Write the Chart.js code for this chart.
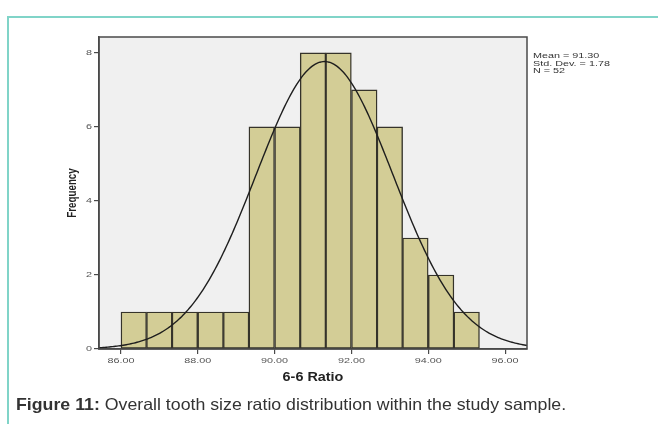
<!DOCTYPE html>
<html>
<head>
<meta charset="utf-8">
<script src="https://cdn.jsdelivr.net/npm/chart.js@4"></script>
<style>
  html, body { margin: 0; padding: 0; background: #fff; width: 658px; height: 424px; overflow: hidden; }
  #panel { position: absolute; left: 7px; top: 16px; width: 720px; height: 520px;
           border-left: 2px solid #80d4c8; border-top: 2px solid #80d4c8; }
  #c { position: absolute; left: 0; top: 0; }
  #caption { position: absolute; left: 16px; top: 395px; white-space: nowrap;
             transform: scaleX(1.075); transform-origin: 0 0;
             font-family: "Liberation Sans", Arial, sans-serif; font-size: 16.5px; color: #333; }
</style>
</head>
<body>
<div id="panel"></div>
<canvas id="c" width="658" height="424"></canvas>
<div id="caption"><b>Figure 11:</b> Overall tooth size ratio distribution within the study sample.</div>
<script>
// Histogram of the 6-6 ratio: bin edges and counts per bin
const binEdges = [86.00, 86.67, 87.33, 88.00, 88.67, 89.33, 90.00, 90.67, 91.33, 92.00, 92.67, 93.33, 94.00, 94.67, 95.33];
const frequencies = [1, 1, 1, 1, 1, 6, 6, 8, 8, 7, 6, 3, 2, 1];

// Axis ticks
const xTickValues = [86, 88, 90, 92, 94, 96];
const yTickValues = [0, 2, 4, 6, 8];

// Summary statistics (also drive the fitted normal curve)
const meanValue = 91.30;
const stdDev = 1.78;
const sampleSize = 52;
const statLines = ['Mean = 91.30', 'Std. Dev. = 1.78', 'N = 52'];

const xMin = 85.43, xMax = 96.57, yMax = 8.43;

// Bars placed at the centre of each bin
const barPoints = frequencies.map((f, i) => ({ x: (binEdges[i] + binEdges[i + 1]) / 2, y: f }));

// Normal density scaled to counts per bin
const binWidth = (binEdges[binEdges.length - 1] - binEdges[0]) / frequencies.length;
const curvePoints = [];
for (let x = xMin - 0.05; x <= xMax + 0.05; x += 0.04) {
  const z = (x - meanValue) / stdDev;
  curvePoints.push({ x, y: sampleSize * binWidth * Math.exp(-0.5 * z * z) / (stdDev * Math.sqrt(2 * Math.PI)) });
}

const AXIS = '#4a4a4a';
const FONT = '"Liberation Sans", Arial, sans-serif';

function stretchedText(ctx, text, x, y, align, sx) {
  ctx.save();
  ctx.translate(x, y);
  ctx.scale(sx, 1);
  ctx.textAlign = align;
  ctx.fillText(text, 0, 0);
  ctx.restore();
}

const spssLook = {
  id: 'spssLook',
  beforeDraw(chart) {
    const { ctx, chartArea: a } = chart;
    ctx.save();
    ctx.fillStyle = '#f0f0f0';
    ctx.fillRect(a.left, a.top, a.right - a.left, a.bottom - a.top);
    ctx.restore();
  },
  afterDraw(chart) {
    const { ctx, chartArea: a } = chart;
    const xs = chart.scales.x, ys = chart.scales.y;
    ctx.save();
    ctx.strokeStyle = AXIS;
    ctx.lineWidth = 1.5;
    ctx.strokeRect(a.left, a.top, a.right - a.left, a.bottom - a.top);

    // tick labels
    ctx.fillStyle = '#555';
    ctx.font = '8px ' + FONT;
    ctx.textBaseline = 'middle';
    xTickValues.forEach(v => stretchedText(ctx, v.toFixed(2), xs.getPixelForValue(v), 361, 'center', 1.35));
    yTickValues.forEach(v => stretchedText(ctx, String(v), 92, ys.getPixelForValue(v), 'right', 1.35));

    // axis titles
    ctx.fillStyle = '#222';
    ctx.font = 'bold 12px ' + FONT;
    stretchedText(ctx, '6-6 Ratio', (a.left + a.right) / 2, 378, 'center', 1.2);
    ctx.save();
    ctx.translate(72, (a.top + a.bottom) / 2);
    ctx.rotate(-Math.PI / 2);
    ctx.font = 'bold 9.8px ' + FONT;
    ctx.scale(1, 1.35);
    ctx.textAlign = 'center';
    ctx.fillText('Frequency', 0, 0);
    ctx.restore();

    // summary statistics
    ctx.fillStyle = '#333';
    ctx.font = '8px ' + FONT;
    statLines.forEach((t, i) => stretchedText(ctx, t, 533, 56 + i * 7.5, 'left', 1.35));
    ctx.restore();
  }
};

new Chart(document.getElementById('c'), {
  data: {
    datasets: [
      {
        type: 'line',
        data: curvePoints,
        borderColor: '#1e1e1e',
        borderWidth: 1.4,
        pointRadius: 0,
        tension: 0,
        order: 0
      },
      {
        type: 'bar',
        data: barPoints,
        backgroundColor: '#d3cd96',
        borderColor: '#35332a',
        borderWidth: 1.4,
        borderSkipped: false,
        barPercentage: 1,
        categoryPercentage: 1,
        order: 1
      }
    ]
  },
  options: {
    responsive: false,
    devicePixelRatio: 1,
    animation: false,
    events: [],
    layout: { padding: { left: 60, top: 37, right: 131, bottom: 39 } },
    plugins: { legend: { display: false }, tooltip: { enabled: false } },
    scales: {
      x: {
        type: 'linear',
        offset: false,
        min: xMin,
        max: xMax,
        afterBuildTicks: s => { s.ticks = xTickValues.map(v => ({ value: v })); },
        afterFit: s => { s.height = 36; },
        ticks: { display: false },
        grid: { offset: false, drawOnChartArea: false, drawTicks: true, tickLength: 5, color: AXIS, lineWidth: 1.2 },
        border: { display: true, color: AXIS, width: 1.5 }
      },
      y: {
        type: 'linear',
        min: 0,
        max: yMax,
        afterBuildTicks: s => { s.ticks = yTickValues.map(v => ({ value: v })); },
        afterFit: s => { s.width = 39; },
        ticks: { display: false },
        grid: { drawOnChartArea: false, drawTicks: true, tickLength: 5, color: AXIS, lineWidth: 1.2 },
        border: { display: true, color: AXIS, width: 1.5 }
      }
    }
  },
  plugins: [spssLook]
});
</script>
</body>
</html>
